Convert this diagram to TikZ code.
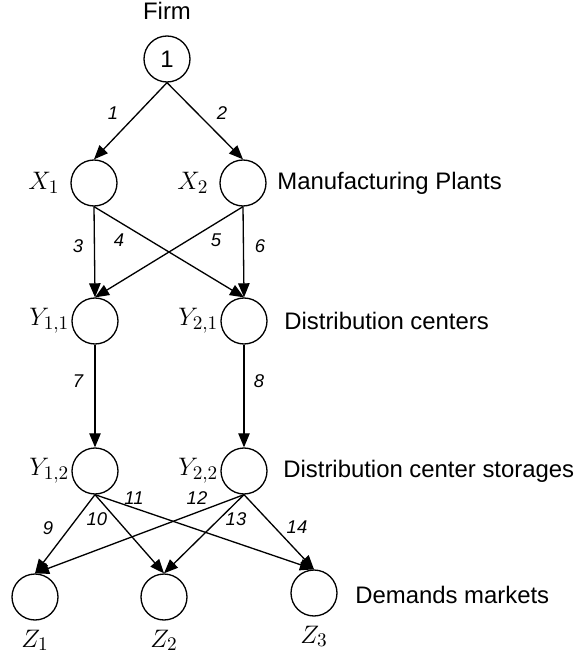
\documentclass[tikz,border=0pt]{standalone}
\usepackage{fontspec}
\setmainfont{Liberation Sans}
\usetikzlibrary{arrows.meta, positioning}

\begin{document}
\begin{tikzpicture}[x=0.02cm, y=-0.02cm, font=\fontsize{13.6}{16}\selectfont,
    fac/.style={draw, circle, line width=0.75pt, minimum size=0.92cm, inner sep=0pt},
    flow/.style={-{Triangle[length=8pt, width=6.5pt]}, line width=0.75pt},
    num/.style={font=\fontsize{10.5}{12}\selectfont\itshape, inner sep=0pt},
    tag/.style={inner sep=2pt, font=\fontsize{15}{17}\selectfont}]
    \useasboundingbox (0,0) rectangle (576,658);

    % Firm
    \node[fac] (F) at (167,59) {1};
    \node[inner sep=2pt, above=7pt of F] (FL) {Firm};

    % Manufacturing plants
    \foreach \i/\x in {1/94, 2/243} {
        \node[fac] (X\i) at (\x,183) {};
        \node[tag, left=4pt of X\i] (XL\i) {$X_{\i}$};
    }
    \node[anchor=west, inner sep=0pt] (PL) at (277,183) {Manufacturing Plants};

    % Distribution centers
    \foreach \i/\x in {1/95, 2/244} {
        \node[fac] (Y\i1) at (\x,321) {};
        \node[tag, left=-1pt of Y\i1] (YL\i1) {$Y_{\i,1}$};
        \node[fac] (Y\i2) at (\x,471) {};
        \node[tag, left=-1pt of Y\i2] (YL\i2) {$Y_{\i,2}$};
    }
    \node[anchor=west, inner sep=0pt] (DC) at (284,321) {Distribution centers};
    \node[anchor=west, inner sep=0pt] (DS) at (283,471) {Distribution center storages};

    % Demand markets
    \foreach \i/\x/\y in {1/35/597, 2/164/597, 3/314/593} {
        \node[fac] (Z\i) at (\x,\y) {};
        \node[tag, below=3pt of Z\i] (ZL\i) {$Z_{\i}$};
    }
    \node[anchor=west, inner sep=0pt] (DM) at (355,595) {Demands markets};

    % Flows
    \foreach \a/\b in {F/X1, F/X2, X1/Y11, X1/Y21, X2/Y11, X2/Y21, Y11/Y12, Y21/Y22,
                       Y12/Z1, Y12/Z2, Y12/Z3, Y22/Z1, Y22/Z2, Y22/Z3} {
        \draw[flow] (\a.south) -- (\b.north);
    }

    % Flow numbers
    \foreach \n/\x/\y in {1/113/113, 2/222/113, 3/78/246, 4/119/240, 5/216/240, 6/260/246,
                          7/78/381, 8/259/381, 9/48/528, 10/97/519, 11/134/498,
                          12/197/498, 13/236/519, 14/297/527} {
        \node[num] (N\n) at (\x,\y) {\n};
    }
\end{tikzpicture}
\end{document}
